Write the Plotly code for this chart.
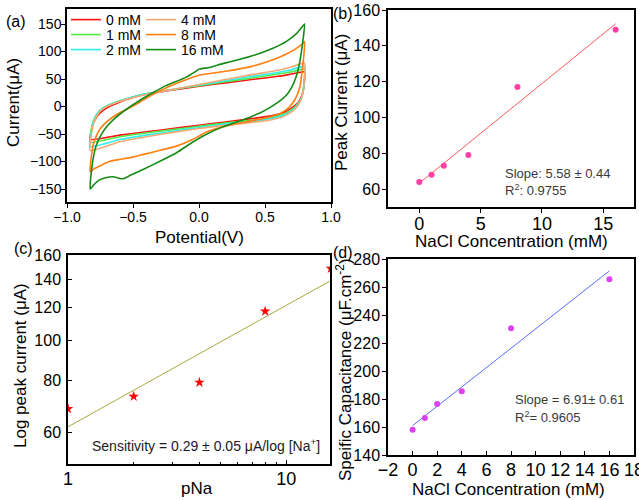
import plotly.graph_objects as go

W, H = 639, 500
FONT = "Arial, Liberation Sans, sans-serif"

# ---------------- Panel (a): cyclic voltammograms ----------------
cv_labels = ["0 mM", "1 mM", "2 mM", "4 mM", "8 mM", "16 mM"]
cv_colors = ["#ff1010", "#4ced4c", "#2eeeee", "#f7a872", "#ff7f10", "#168a16"]

v_fwd_small = [-0.825, -0.815, -0.80, -0.775, -0.75, -0.70, -0.65, -0.55, -0.40, -0.20, 0.0, 0.20, 0.40, 0.60, 0.70, 0.80]
v_rev_small = [0.798, 0.79, 0.775, 0.75, 0.71, 0.65, 0.55, 0.40, 0.20, 0.0, -0.20, -0.40, -0.60, -0.825]

i_fwd_0mM = [-60, -42, -30, -19, -12, -3, 3, 13, 23, 30, 37, 43, 49, 55, 59, 63]
i_rev_0mM = [45, 30, 17, 7, -1, -10, -17, -22, -28, -34, -40, -46, -52, -60]
i_fwd_1mM = [-65, -40, -26, -14, -7, 1, 6, 14, 23, 31, 38, 45, 52, 59, 63, 68]
i_rev_1mM = [45, 28, 15, 5, -4, -13, -20, -25, -30, -36, -42, -48, -55, -65]
i_fwd_2mM = [-73, -45, -28, -15, -7, 1, 6, 14, 23, 31, 39, 47, 55, 62, 67, 73]
i_rev_2mM = [48, 30, 15, 4, -6, -15, -22, -27, -32, -38, -45, -52, -60, -73]
i_fwd_4mM = [-80, -50, -32, -18, -9, 0, 5, 13, 22, 31, 40, 49, 58, 66, 72, 79]
i_rev_4mM = [50, 30, 14, 2, -8, -17, -24, -29, -34, -40, -47, -55, -64, -80]

v_fwd_8mM = [-0.825, -0.82, -0.81, -0.80, -0.775, -0.75, -0.70, -0.62, -0.50, -0.40, -0.30, -0.15, 0.0, 0.20, 0.40, 0.55, 0.65, 0.72, 0.77, 0.80]
i_fwd_8mM = [-119, -100, -82, -68, -52, -41, -28, -14, 1, 15, 28, 44, 57, 64, 73, 84, 94, 103, 111, 118]
v_rev_8mM = [0.795, 0.785, 0.775, 0.765, 0.745, 0.72, 0.68, 0.62, 0.55, 0.44, 0.31, 0.18, 0.06, -0.05, -0.17, -0.30, -0.42, -0.50, -0.57, -0.62, -0.68, -0.75, -0.80, -0.825]
i_rev_8mM = [95, 72, 52, 36, 22, 10, -2, -12, -18, -24, -30, -37, -46, -60, -72, -80, -87, -92, -95, -97, -100, -108, -114, -119]

v_fwd_16mM = [-0.825, -0.82, -0.81, -0.80, -0.78, -0.75, -0.70, -0.64, -0.55, -0.45, -0.35, -0.25, -0.10, -0.03, 0.0, 0.08, 0.18, 0.31, 0.44, 0.56, 0.66, 0.74, 0.80]
i_fwd_16mM = [-150, -128, -108, -92, -72, -55, -37, -22, -5, 11, 25, 38, 53, 63, 68, 71, 78, 86, 95, 106, 118, 133, 150]
v_rev_16mM = [0.79, 0.778, 0.765, 0.75, 0.73, 0.70, 0.66, 0.60, 0.50, 0.40, 0.30, 0.18, 0.06, -0.05, -0.17, -0.30, -0.42, -0.52, -0.57, -0.60, -0.64, -0.70, -0.75, -0.80, -0.825]
i_rev_16mM = [125, 103, 83, 66, 50, 34, 20, 8, -7, -18, -27, -37, -50, -65, -84, -100, -114, -125, -131, -131, -128, -129, -133, -143, -150]

cv_v = [
    v_fwd_small + v_rev_small,
    v_fwd_small + v_rev_small,
    v_fwd_small + v_rev_small,
    v_fwd_small + v_rev_small,
    v_fwd_8mM + v_rev_8mM,
    v_fwd_16mM + v_rev_16mM,
]
cv_i = [
    i_fwd_0mM + i_rev_0mM,
    i_fwd_1mM + i_rev_1mM,
    i_fwd_2mM + i_rev_2mM,
    i_fwd_4mM + i_rev_4mM,
    i_fwd_8mM + i_rev_8mM,
    i_fwd_16mM + i_rev_16mM,
]

# ---------------- Panel (b) ----------------
conc_b = [0, 1, 2, 4, 8, 16]
peak_b = [64, 68, 73, 79, 117, 149]
fit_b_x = [0, 16]
fit_b_y = [63.3, 152.3]

# ---------------- Panel (c) ----------------
pna_c = [1, 2, 4, 8, 16]
logpeak_c = [68.5, 73.3, 79.2, 117.3, 148.5]
fit_c_x = [1, 16]
fit_c_y = [62.0, 139.0]

# ---------------- Panel (d) ----------------
conc_d = [0, 1, 2, 4, 8, 16]
cap_d = [158, 166.5, 176.5, 185.5, 230.5, 265.5]
fit_d_x = [0, 16]
fit_d_y = [161.0, 271.5]


def xd(a, b):
    return [a / W, b / W]


def yd(top, bottom):
    return [1 - bottom / H, 1 - top / H]


def px(x):
    return x / W


def py(y):
    return 1 - y / H


fig = go.Figure()

# panel (a) traces, each with its own one-row legend
for k in range(6):
    fig.add_trace(go.Scatter(
        x=cv_v[k], y=cv_i[k], mode="lines", name=cv_labels[k],
        line=dict(color=cv_colors[k], width=1.6, shape="spline", smoothing=0.4),
        xaxis="x", yaxis="y",
        legend="legend" if k == 0 else "legend%d" % (k + 1),
    ))

fig.add_trace(go.Scatter(x=fit_b_x, y=fit_b_y, mode="lines", showlegend=False,
                         line=dict(color="#ff5a5a", width=1), xaxis="x2", yaxis="y2"))
fig.add_trace(go.Scatter(x=conc_b, y=peak_b, mode="markers", showlegend=False,
                         marker=dict(color="#ff3fa3", size=6), xaxis="x2", yaxis="y2"))

fig.add_trace(go.Scatter(x=fit_c_x, y=fit_c_y, mode="lines", showlegend=False,
                         line=dict(color="#a8a840", width=1), xaxis="x3", yaxis="y3"))
fig.add_trace(go.Scatter(x=pna_c, y=logpeak_c, mode="markers", showlegend=False,
                         marker=dict(color="#ff0000", size=8, symbol="star"), xaxis="x3", yaxis="y3"))

fig.add_trace(go.Scatter(x=fit_d_x, y=fit_d_y, mode="lines", showlegend=False,
                         line=dict(color="#5a6cff", width=1), xaxis="x4", yaxis="y4"))
fig.add_trace(go.Scatter(x=conc_d, y=cap_d, mode="markers", showlegend=False,
                         marker=dict(color="#dd40f0", size=6), xaxis="x4", yaxis="y4"))

axis_common = dict(showline=True, linecolor="black", linewidth=1.5, mirror=True,
                   showgrid=False, zeroline=False, ticks="outside", ticklen=4,
                   tickwidth=1.2, tickcolor="black", automargin=False)

tick18 = dict(family=FONT, size=18, color="black")
tick16 = dict(family=FONT, size=16, color="black")
tick14 = dict(family=FONT, size=14, color="black")

layout = dict(
    width=W, height=H, autosize=False,
    margin=dict(l=0, r=0, t=0, b=0, pad=0, autoexpand=False),
    paper_bgcolor="white", plot_bgcolor="white",
    font=dict(family=FONT, color="black"),
    xaxis=dict(axis_common, domain=xd(67, 331), range=[-1.0, 1.0], anchor="y",
               tickvals=[-1.0, -0.5, 0.0, 0.5, 1.0], tickformat=".1f", tickfont=tick14,
               ticklabelstandoff=-3, ticklabeloverflow="allow"),
    yaxis=dict(axis_common, domain=yd(9, 202), range=[-173.6, 177.3], anchor="x",
               tickvals=[-150, -100, -50, 0, 50, 100, 150], tickfont=tick14,
               ticklabelstandoff=-3),
    xaxis2=dict(axis_common, domain=xd(388, 634), range=[-2.55, 17.5], anchor="y2",
                tickvals=[0, 5, 10, 15], tickfont=tick18, ticklabelstandoff=-4),
    yaxis2=dict(axis_common, domain=yd(10, 207), range=[50, 160], anchor="x2",
                tickvals=[60, 80, 100, 120, 140, 160], tickfont=tick16, ticklabelstandoff=-1),
    xaxis3=dict(axis_common, domain=xd(68, 330), type="log", range=[0, 1.2], anchor="y3",
                tickvals=[1, 10], ticktext=["1", "10"], ticks="inside", tickfont=tick18,
                ticklabelstandoff=-2, ticklabeloverflow="allow",
                minor=dict(ticks="inside", ticklen=2.5, tickcolor="black",
                           tickvals=[2, 3, 4, 5, 6, 7, 8, 9])),
    yaxis3=dict(axis_common, domain=yd(255, 464), type="log", range=[1.7033, 2.2041], anchor="x3",
                tickvals=[60, 80, 100, 120, 140, 160], ticktext=["60", "80", "100", "120", "140", "160"],
                ticks="inside", tickfont=tick16, ticklabelstandoff=2),
    xaxis4=dict(axis_common, domain=xd(388, 634), range=[-2, 18], anchor="y4",
                tickvals=list(range(-2, 19, 2)), ticks="inside", tickfont=tick18,
                ticklabelstandoff=-2, ticklabeloverflow="allow"),
    yaxis4=dict(axis_common, domain=yd(259, 455), range=[140, 280], anchor="x4",
                tickvals=list(range(140, 281, 20)), tickfont=tick16, ticklabelstandoff=-1),
)

# six one-item legends arranged in 2 columns x 3 rows
leg_pos = [(71, 20), (71, 35), (71, 50), (146, 20), (146, 35), (146, 50)]
for k, (lx, ly) in enumerate(leg_pos):
    key = "legend" if k == 0 else "legend%d" % (k + 1)
    layout[key] = dict(x=px(lx - 5), y=py(ly), xanchor="left", yanchor="middle",
                       bgcolor="rgba(0,0,0,0)", borderwidth=0,
                       font=dict(family=FONT, size=14, color="black"), itemwidth=30)

fig.update_layout(**layout)

ann = []


def add_text(text, x, y, size, angle=0, xanchor="center", color="black"):
    ann.append(dict(text=text, x=px(x), y=py(y), xref="paper", yref="paper",
                    showarrow=False, xanchor=xanchor, yanchor="middle", textangle=angle,
                    font=dict(family=FONT, size=size, color=color)))


# panel labels
add_text("(a)", 16, 21, 16)
add_text("(b)", 343, 13, 16)
add_text("(c)", 23, 248, 16)
add_text("(d)", 343, 252, 16)

# axis titles
add_text("Potential(V)", 199, 237, 17)
add_text("Current(μA)", 14, 103, 17, angle=-90)
add_text("NaCl Concentration (mM)", 511, 241, 17)
add_text("Peak Current (μA)", 342, 102, 17, angle=-90)
add_text("pNa", 197, 488, 17)
add_text("Log peak current (μA)", 20, 366, 17, angle=-90)
add_text("NaCl Concentration (mM)", 509, 489, 17)
add_text("Speific Capacitance (μF.cm<sup>-2</sup>)", 344, 370, 17, angle=-90)

# fit annotations
add_text("Slope: 5.58 ± 0.44", 503, 173, 13, xanchor="left", color="#3a3a3a")
add_text("R<sup>2</sup>: 0.9755", 503, 190, 13, xanchor="left", color="#3a3a3a")
add_text("Sensitivity = 0.29 ± 0.05 μA/log [Na<sup>+</sup>]", 90, 445, 14, xanchor="left", color="#1a1a1a")
add_text("Slope = 6.91± 0.61", 513, 399, 13, xanchor="left", color="#3a3a3a")
add_text("R<sup>2</sup>= 0.9605", 513, 417, 13, xanchor="left", color="#3a3a3a")

fig.update_layout(annotations=ann)

fig.write_html("out.html", config={"displayModeBar": False},
               post_script="document.body.style.margin='0px';")
